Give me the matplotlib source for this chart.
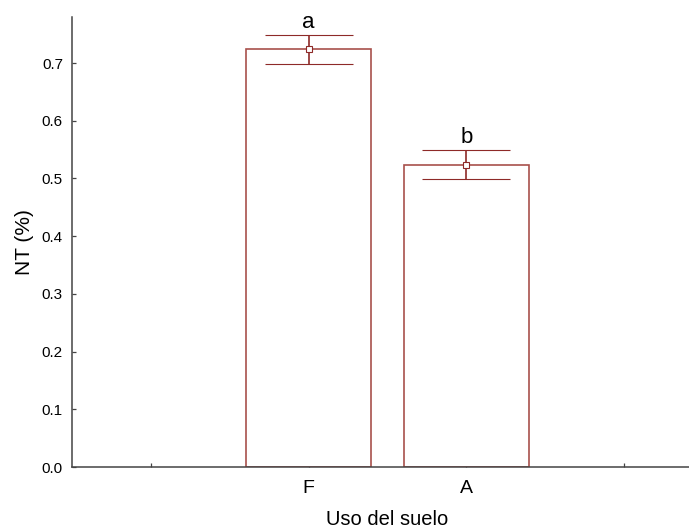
import numpy as np
import matplotlib.pyplot as plt

plt.rcParams['font.family'] = ['Liberation Sans', 'DejaVu Sans']

# Datos (NT % por uso del suelo)
categorias = ['F', 'A']
medias = [0.724, 0.524]
errores = [0.025, 0.025]
letras = ['a', 'b']
posiciones = [1, 2]

borde = '#a8504c'
err_color = '#8e2a28'

fig = plt.figure(figsize=(6.89, 5.29), dpi=100)
# el eje sigue a la derecha fuera de la figura (imagen recortada)
ax = fig.add_axes([0.1045, 0.1172, 0.9158, 0.8508])

ax.bar(posiciones, medias, width=0.79, facecolor='white', edgecolor=borde,
       linewidth=1.2, zorder=2)
ax.errorbar(posiciones, medias, yerr=errores, fmt='s', color=err_color,
            ecolor=err_color, elinewidth=1.2, capsize=32, capthick=1.2,
            markersize=4.5, markerfacecolor='white', markeredgecolor=err_color,
            markeredgewidth=0.8, zorder=3)

for p, m, e, l in zip(posiciones, medias, errores, letras):
    ax.text(p, m + e + 0.004, l, ha='center', va='bottom', fontsize=16)

ax.set_xlim(-0.5, 3.5)
ax.set_ylim(0, 0.78)
ax.set_xticks([0, 1, 2, 3])
ax.set_xticklabels(['', 'F', 'A', ''], fontsize=14)
ax.set_yticks(np.arange(0, 0.71, 0.1))
ax.set_yticklabels([f'{v:.1f}' for v in np.arange(0, 0.71, 0.1)], fontsize=11)

ax.set_ylabel('NT (%)', fontsize=15, labelpad=6)
ax.set_xlabel('Uso del suelo', fontsize=14.5, labelpad=10)

for s in ['top', 'right']:
    ax.spines[s].set_visible(False)
for s in ['left', 'bottom']:
    ax.spines[s].set_color('#444444')
    ax.spines[s].set_linewidth(1.1)
ax.tick_params(direction='in', length=3, width=0.9, color='#444444', pad=6.5)
ax.tick_params(axis='x', pad=9)

fig.savefig('out.png', dpi=100)
